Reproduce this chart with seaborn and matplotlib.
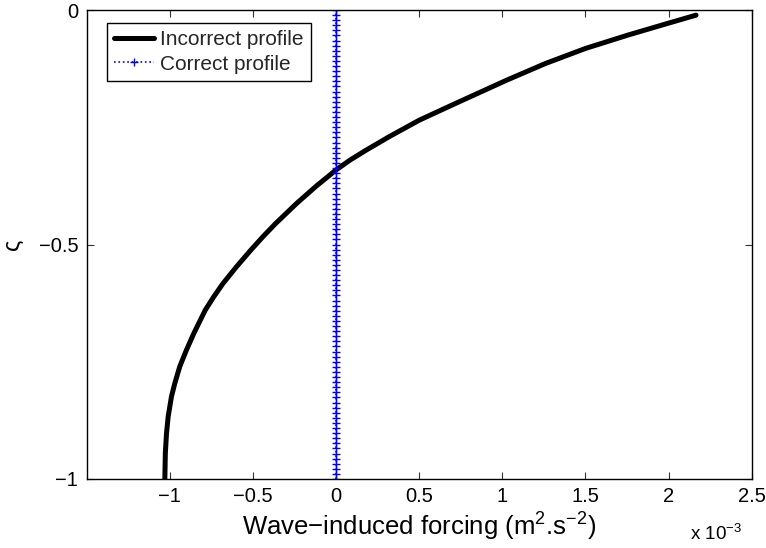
import numpy as np
import pandas as pd
import matplotlib
matplotlib.use("Agg")
import matplotlib.pyplot as plt
import seaborn as sns

# ---- data (forcing in units of 1e-3 m^2 s^-2, sigma levels) ----
incorrect_sigma = [-1.0, -0.945, -0.903, -0.867, -0.824, -0.796, -0.76, -0.725,
                   -0.689, -0.64, -0.611, -0.583, -0.547, -0.512, -0.483,
                   -0.455, -0.412, -0.376, -0.341, -0.320, -0.299, -0.270,
                   -0.235, -0.199, -0.149, -0.114, -0.082, -0.053, -0.028,
                   -0.011]
incorrect_forcing_e3 = [-1.03, -1.027, -1.020, -1.01, -0.990, -0.970, -0.94, -0.90,
                        -0.855, -0.787, -0.735, -0.68, -0.598, -0.513, -0.439,
                        -0.363, -0.236, -0.121, 0.0, 0.084, 0.18, 0.32,
                        0.50, 0.72, 1.03, 1.26, 1.50, 1.76, 2.0,
                        2.165]
correct_sigma = list(np.linspace(-1.0, 0.0, 93))
correct_forcing_e3 = [0.0] * len(correct_sigma)

xtick_vals = [-1, -0.5, 0, 0.5, 1, 1.5, 2, 2.5]
xtick_labels = ["\u22121", "\u22120.5", "0", "0.5", "1", "1.5", "2", "2.5"]
ytick_vals = [-1, -0.5, 0]
ytick_labels = ["\u22121", "\u22120.5", "0"]

sns.set_theme(style="white")
plt.rcParams["font.family"] = ["Liberation Sans", "DejaVu Sans"]
plt.rcParams["mathtext.fontset"] = "custom"
plt.rcParams["mathtext.rm"] = "Liberation Sans"
plt.rcParams["mathtext.it"] = "Liberation Sans:italic"
plt.rcParams["mathtext.bf"] = "Liberation Sans:bold"

df_inc = pd.DataFrame({"forcing": np.array(incorrect_forcing_e3) * 1e-3,
                       "sigma": incorrect_sigma})
df_cor = pd.DataFrame({"forcing": np.array(correct_forcing_e3) * 1e-3,
                       "sigma": correct_sigma})

fig = plt.figure(figsize=(7.66, 5.48), dpi=100)
ax = fig.add_axes([86.7 / 766, 1 - 479 / 548, (751.7 - 86.7) / 766, 469 / 548])

sns.lineplot(data=df_inc, x="forcing", y="sigma", sort=False, estimator=None,
             color="black", linewidth=3.6, label="Incorrect profile", ax=ax)
sns.lineplot(data=df_cor, x="forcing", y="sigma", sort=False, estimator=None,
             color="#0000ff", linewidth=1.2, linestyle=":", marker="+",
             markersize=6, markeredgecolor="#0000ff", markeredgewidth=1.0,
             label="Correct profile", ax=ax)

ax.set_xlim(-1.5e-3, 2.5e-3)
ax.set_ylim(-1, 0)
ax.set_xticks([v * 1e-3 for v in xtick_vals])
ax.set_xticklabels(xtick_labels)
ax.set_yticks(ytick_vals)
ax.set_yticklabels(ytick_labels)

for s in ax.spines.values():
    s.set_visible(True)
    s.set_color("black")
    s.set_linewidth(1.0)
ax.tick_params(axis="both", which="both", direction="in", length=5, width=0.8,
               color="#333333", top=True, right=True, bottom=True, left=True,
               labelsize=14.5, labelcolor="black", pad=6)
ax.grid(False)

ax.set_xlabel("Wave\u2212induced forcing (m$^2$.s$^{\u22122}$)", fontsize=18.5,
              color="black", labelpad=3)
ax.set_ylabel("\u03c2", fontsize=17, color="black")
ax.yaxis.set_label_coords(-0.094, 0.5)

fig.text(742 / 766, 1 - 540 / 548, "x 10$^{\u22123}$", ha="right",
         va="baseline", fontsize=13.5, color="black")

leg = ax.legend(loc="upper left", bbox_to_anchor=(0.0305, 0.972),
                borderaxespad=0, fontsize=15, frameon=True, fancybox=False,
                shadow=False, framealpha=1, edgecolor="black",
                handlelength=1.9, handletextpad=0.3, labelspacing=0.25,
                borderpad=0.35, numpoints=1)
leg.get_frame().set_linewidth(1.0)

fig.savefig("out.png", dpi=100)
